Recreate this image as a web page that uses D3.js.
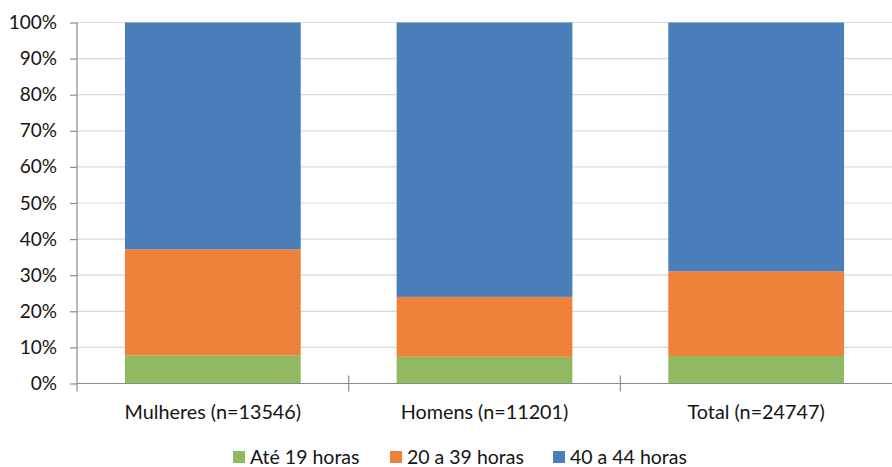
<!DOCTYPE html>
<html>
<head>
<meta charset="utf-8">
<script src="https://cdn.jsdelivr.net/npm/d3@7"></script>
<style>
  html, body { margin: 0; padding: 0; background: #fff; }
  svg text { font-family: Lato, "Open Sans", sans-serif; fill: #141414; }
</style>
</head>
<body>
<svg id="chart" width="892" height="467"></svg>
<script>
// Distribution of weekly working hours by group (share of each group, %)
const categories = ["Mulheres (n=13546)", "Homens (n=11201)", "Total (n=24747)"];
const seriesNames = ["Até 19 horas", "20 a 39 horas", "40 a 44 horas"];
const ate19 = [7.8, 7.4, 7.6];
const de20a39 = [29.4, 16.6, 23.5];
const de40a44 = [62.8, 76.0, 68.9];
const colors = ["#8fba61", "#f0813a", "#4a7ebb"];
const yTicks = [0, 10, 20, 30, 40, 50, 60, 70, 80, 90, 100];

const svg = d3.select("#chart");
const margin = { left: 77, right: 0, top: 22.5, bottom: 83.5 };
const W = 892, H = 467;
const plotW = W - margin.left - margin.right;
const plotH = H - margin.top - margin.bottom;

const rows = categories.map((c, i) => ({
  cat: c, s0: ate19[i], s1: de20a39[i], s2: de40a44[i]
}));
const stacked = d3.stack().keys(["s0", "s1", "s2"])(rows);

const x = d3.scaleBand().domain(categories).range([0, plotW])
  .paddingInner(0.353).paddingOuter(0.1765);
const y = d3.scaleLinear().domain([0, 100]).range([plotH, 0]);

const g = svg.append("g").attr("transform", `translate(${margin.left},${margin.top})`);

// horizontal gridlines
g.append("g").selectAll("line").data(yTicks.filter(t => t > 0)).join("line")
  .attr("x1", 0).attr("x2", plotW)
  .attr("y1", d => y(d)).attr("y2", d => y(d))
  .attr("stroke", "#d9d9d9").attr("stroke-width", 1.2);

// stacked bars
g.append("g").selectAll("g").data(stacked).join("g")
  .attr("fill", (d, i) => colors[i])
  .selectAll("rect").data(d => d).join("rect")
  .attr("x", d => x(d.data.cat))
  .attr("width", x.bandwidth())
  .attr("y", d => y(d[1]))
  .attr("height", d => y(d[0]) - y(d[1]));

// y axis
const yAxis = d3.axisLeft(y).tickValues(yTicks).tickFormat(d => d + "%").tickSize(7).tickPadding(13);
const ya = g.append("g").call(yAxis);
ya.select(".domain").attr("stroke", "#8c8c8c").attr("stroke-width", 1.2)
  .attr("d", `M0,${plotH + 8}V0`);
ya.selectAll(".tick line").attr("stroke", "#8c8c8c").attr("stroke-width", 1.2);
ya.selectAll(".tick text").attr("font-size", "19px").attr("fill", "#141414");

// x axis baseline and category separators
const xa = g.append("g").attr("transform", `translate(0,${plotH})`);
xa.append("line").attr("x1", 0).attr("x2", plotW).attr("y1", 0).attr("y2", 0)
  .attr("stroke", "#8c8c8c").attr("stroke-width", 1.2);
const step = x.step();
xa.selectAll("line.sep").data(d3.range(1, categories.length)).join("line")
  .attr("class", "sep")
  .attr("x1", i => i * step).attr("x2", i => i * step)
  .attr("y1", -8).attr("y2", 8)
  .attr("stroke", "#8c8c8c").attr("stroke-width", 1.2);
xa.selectAll("text").data(categories).join("text")
  .attr("x", d => x(d) + x.bandwidth() / 2)
  .attr("y", 35)
  .attr("text-anchor", "middle")
  .attr("font-size", "19.8px")
  .text(d => d);

// legend
const legendX = [233, 390, 553];
const lg = svg.append("g").selectAll("g").data(seriesNames).join("g")
  .attr("transform", (d, i) => `translate(${legendX[i]},451)`);
lg.append("rect").attr("width", 12).attr("height", 12).attr("fill", (d, i) => colors[i]);
lg.append("text").attr("x", 17).attr("y", 12.8).attr("font-size", "19.5px").text(d => d);
</script>
</body>
</html>
